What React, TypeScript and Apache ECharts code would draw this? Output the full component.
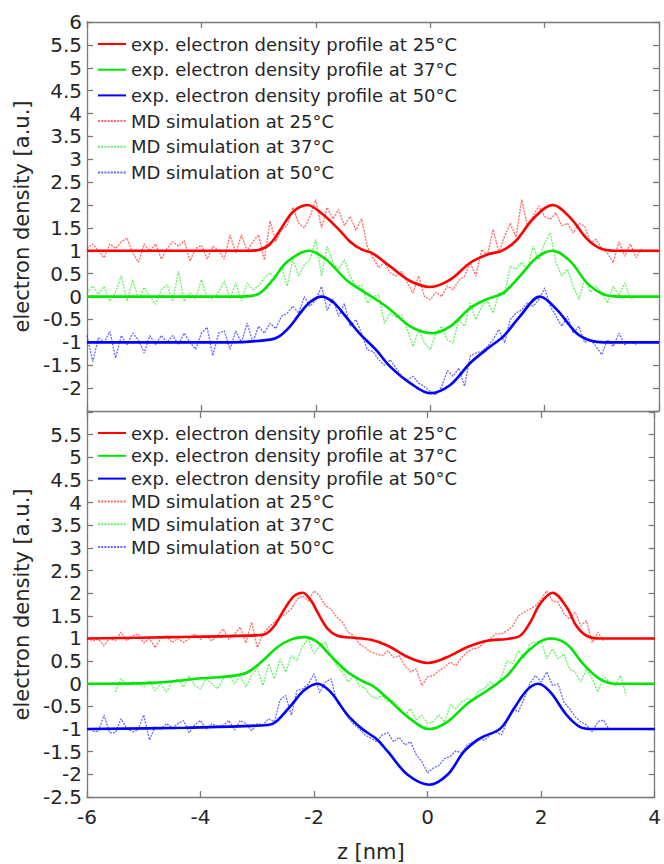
import React, { useEffect, useRef } from "react";
import * as echarts from "echarts";

// ---------- data ----------
const X_TICKS_MIN = -6;
const X_TICKS_MAX = 4;
const Y_MIN = -2.5;
const Y_MAX = 6;

const names = [
  "exp. electron density profile at 25°C",
  "exp. electron density profile at 37°C",
  "exp. electron density profile at 50°C",
  "MD simulation at 25°C",
  "MD simulation at 37°C",
  "MD simulation at 50°C",
];
const colors = ["#ff0000", "#00e600", "#0000ff"];

// experimental profiles [z, density] (top panel)
const topExp25: number[][] = [[-6,1],[-3.2,1.0],[-3.0,1.02],[-2.8,1.15],[-2.6,1.5],[-2.4,1.85],[-2.15,2.0],[-1.9,1.82],[-1.6,1.47],[-1.4,1.2],[-1.2,1.03],[-1.0,0.94],[-0.7,0.66],[-0.35,0.34],[0,0.21],[0.35,0.37],[0.7,0.74],[1.0,0.92],[1.25,1.0],[1.5,1.22],[1.8,1.7],[2.14,2.0],[2.45,1.72],[2.75,1.25],[3.0,1.04],[3.3,1.0],[4,1]];
const topExp37: number[][] = [[-6,0],[-3.3,0],[-3.0,0.06],[-2.75,0.37],[-2.5,0.76],[-2.12,1.0],[-1.82,0.81],[-1.47,0.37],[-1.18,0.12],[-0.95,-0.06],[-0.7,-0.28],[-0.35,-0.65],[0.03,-0.8],[0.35,-0.65],[0.7,-0.25],[1.0,-0.05],[1.28,0.08],[1.57,0.45],[1.86,0.85],[2.14,1.0],[2.45,0.77],[2.74,0.3],[3.03,0.05],[3.32,0],[4,0]];
const topExp50: number[][] = [[-6,-1],[-3.5,-1],[-2.8,-0.94],[-2.64,-0.87],[-2.45,-0.65],[-2.29,-0.39],[-2.1,-0.12],[-1.9,0],[-1.7,-0.12],[-1.5,-0.4],[-1.24,-0.8],[-0.95,-1.16],[-0.7,-1.53],[-0.35,-1.89],[0,-2.11],[0.35,-1.93],[0.7,-1.45],[1.05,-1.09],[1.28,-0.87],[1.57,-0.43],[1.92,0],[2.21,-0.28],[2.56,-0.8],[2.8,-0.96],[3.03,-1],[4,-1]];

// experimental profiles (bottom panel)
const botExp25: number[][] = [[-6,1],[-4.5,1.03],[-3.0,1.07],[-2.85,1.1],[-2.7,1.28],[-2.52,1.65],[-2.35,1.94],[-2.2,2.01],[-2.05,1.83],[-1.94,1.58],[-1.76,1.21],[-1.59,1.06],[-1.36,1.02],[-1.0,0.97],[-0.7,0.84],[-0.35,0.59],[0,0.46],[0.35,0.59],[0.7,0.81],[1.05,0.95],[1.4,0.99],[1.63,1.06],[1.81,1.36],[1.98,1.76],[2.2,2.01],[2.45,1.69],[2.62,1.28],[2.8,1.06],[3.03,1.0],[4,1]];
const botExp37: number[][] = [[-6,0],[-4.85,0.02],[-3.98,0.12],[-3.4,0.18],[-3.16,0.26],[-2.93,0.48],[-2.64,0.81],[-2.4,0.98],[-2.17,1.03],[-1.94,0.92],[-1.71,0.62],[-1.41,0.26],[-1.12,0.04],[-0.95,-0.06],[-0.7,-0.33],[-0.35,-0.73],[0.03,-1.0],[0.35,-0.84],[0.7,-0.44],[1.05,-0.15],[1.4,0.18],[1.75,0.7],[2.16,1.0],[2.45,0.88],[2.74,0.44],[3.03,0.11],[3.32,0.0],[4,0]];
const botExp50: number[][] = [[-6,-1],[-4.27,-0.97],[-2.81,-0.91],[-2.67,-0.84],[-2.4,-0.47],[-2.17,-0.14],[-1.94,0],[-1.71,-0.18],[-1.41,-0.69],[-1.15,-1.0],[-0.9,-1.22],[-0.7,-1.5],[-0.35,-2.01],[0.03,-2.23],[0.35,-2.01],[0.64,-1.5],[0.93,-1.2],[1.28,-0.99],[1.52,-0.55],[1.75,-0.14],[1.95,0],[2.16,-0.18],[2.45,-0.69],[2.68,-0.95],[2.91,-1.0],[4,-1]];

// MD simulation profiles, sampled every MD_STEP nm from the given start
const MD_STEP = 0.1;
const topMd25Start = -6.0;
const topMd25 = [1.05,1.15,1.0,0.85,1.15,1.05,1.2,1.28,0.95,0.75, 1.15,1.0,1.15,0.82,1.05,1.2,1.1,1.22,0.78,1.05, 1.12,0.82,1.1,1.0,0.82,1.35,0.95,1.35,1.0,1.2, 1.35,0.8,1.65,1.2,1.45,1.55,1.95,1.6,1.5,1.75, 2.12,1.5,1.95,1.7,1.9,1.55,1.75,1.45,1.7,1.1, 0.85,0.63,0.75,0.52,0.45,0.55,0.3,0.08,0.45,0.0, -0.07,0.1,0.0,0.23,0.15,0.35,0.45,0.74,0.45,1.03, 0.9,1.47,0.96,1.32,1.6,1.3,2.12,1.54,1.76,1.98, 1.75,1.69,1.83,1.55,1.6,1.39,1.6,1.54,1.18,1.25, 1.05,0.95,0.74,1.2,0.88,1.15,0.85,1.05];
const topMd37Start = -6.0;
const topMd37 = [0.08,0.23,0.05,0.22,-0.1,0.1,0.45,-0.1,0.37,-0.05, 0.2,0.0,-0.17,0.15,0.26,-0.1,0.55,-0.1,0.08,-0.05, 0.37,-0.02,-0.05,0.1,0.34,-0.05,0.3,-0.1,0.3,0.15, 0.23,0.41,0.52,0.41,0.66,0.23,0.81,0.45,0.7,0.81, 1.25,0.45,1.1,0.74,0.6,0.81,0.45,0.23,0.25,-0.14, 0.0,0.04,-0.58,-0.36,-0.45,-0.4,-0.72,-1.09,-0.72,-1.01, -1.16,-0.8,-0.65,-0.95,-1.01,-0.5,-0.65,-0.14,-0.5,-0.21, -0.1,-0.36,0.08,0.05,0.66,0.6,0.75,0.59,1.1,0.8, 1.18,1.39,0.74,0.45,0.6,0.23,-0.07,0.37,0.1,0.23, 0.08,-0.14,0.23,0.02,0.3,-0.05,0.0];
const topMd50Start = -6.0;
const topMd50 = [-0.85,-1.42,-0.9,-1.0,-0.76,-1.34,-0.85,-1.05,-0.8,-0.95, -1.23,-0.85,-1.05,-0.85,-1.0,-0.85,-1.05,-0.8,-1.0,-1.15, -0.8,-0.67,-1.29,-0.8,-0.75,-1.15,-0.75,-1.0,-0.58,-1.0, -0.65,-0.8,-0.58,-0.7,-0.43,-0.36,-0.21,-0.36,0.0,-0.21, -0.07,0.22,-0.3,-0.05,-0.43,-0.15,-0.65,-0.5,-0.8,-1.16, -1.2,-1.38,-1.5,-1.38,-1.56,-1.74,-1.82,-1.74,-1.89,-1.97, -2.07,-2.15,-1.97,-1.62,-1.74,-1.56,-1.96,-1.3,-1.23,-1.2, -1.09,-0.94,-0.72,-1.01,-0.5,-0.36,-0.29,-0.14,-0.21,-0.07, 0.19,-0.21,-0.43,-0.65,-0.43,-0.8,-0.65,-1.0,-0.94,-1.09, -1.27,-0.94,-1.09,-0.8,-1.05,-0.98,-1.05];

const botMd25Start = -6.0;
const botMd25 = [1.0,0.95,0.98,0.84,1.0,0.95,1.14,0.95,1.06,1.1, 0.9,1.0,0.8,1.0,1.06,0.91,1.0,0.91,1.0,1.1, 0.98,1.06,0.95,1.06,1.21,0.98,1.1,1.25,0.9,1.36, 0.8,1.1,1.25,1.36,1.47,1.54,1.65,1.87,1.94,1.83, 2.05,1.94,1.72,1.65,1.47,1.36,1.14,1.06,0.88,0.8, 0.7,0.66,0.62,0.73,0.58,0.62,0.4,0.26,0.33,-0.04, 0.15,0.18,0.29,0.36,0.48,0.4,0.58,0.7,0.77,0.8, 0.91,0.99,1.1,1.1,1.17,1.28,1.5,1.58,1.65,1.72, 1.87,2.05,1.83,1.8,1.55,1.43,1.58,1.28,1.39,0.91, 1.14,0.95];
const botMd37Start = -5.5;
const botMd37 = [-0.18,0.11,-0.03,0.04,0.0,-0.07,0.07,-0.15,0.0,-0.18, 0.04,0.11,-0.07,0.18,-0.04,-0.11,0.11,0.0,-0.11,0.11, 0.18,0.0,0.18,-0.07,0.18,0.33,-0.04,0.44,0.11,0.55, 0.26,0.62,0.51,0.84,0.99,0.66,0.84,0.92,0.62,0.4, 0.26,0.04,0.18,-0.04,-0.11,-0.26,-0.33,-0.26,-0.4,-0.37, -0.51,-0.69,-0.55,-0.8,-0.69,-0.88,-0.84,-0.69,-0.84,-0.47, -0.55,-0.4,-0.33,-0.37,-0.15,-0.11,0.04,-0.04,0.15,0.51, 0.44,0.73,0.55,0.88,0.92,0.95,0.55,0.77,0.55,0.66, 0.33,0.26,0.04,0.33,0.11,-0.18,0.18,0.04,-0.04,0.18, -0.26];
const botMd50Start = -5.9;
const botMd50 = [-1.05,-1.05,-0.69,-1.08,-1.08,-0.77,-0.99,-1.06,-1.02,-0.69, -1.24,-0.95,-1.0,-0.88,-0.98,-0.88,-0.81,-1.08,-0.9,-0.81, -1.0,-0.88,-0.95,-0.92,-0.81,-1.02,-0.81,-0.88,-1.04,-0.88, -0.91,-0.77,-0.84,-0.36,-0.26,-0.69,-0.15,-0.11,0.0,0.22, -0.2,0.04,0.11,-0.4,-0.55,-0.75,-0.9,-1.0,-1.13,-1.2, -1.28,-1.13,-1.08,-1.28,-1.18,-1.35,-1.28,-1.57,-1.72,-1.97, -1.86,-1.8,-1.65,-1.6,-1.48,-1.53,-1.35,-1.28,-1.2,-1.25, -1.13,-1.06,-1.13,-0.84,-0.55,-0.62,-0.33,0.0,0.18,0.04, 0.26,-0.04,0.0,-0.4,-0.55,-0.73,-0.84,-0.91,-1.06,-0.84, -0.8,-1.02];

// ---------- helpers ----------
const FONT = "DejaVu Sans";
const TEXT = "#262626";
const AXIS = "#7a7a7a";

function mdPairs(start: number, vals: number[]): number[][] {
  return vals.map((v, i) => [Math.round((start + i * MD_STEP) * 100) / 100, v]);
}

function expSeries(name: string, color: string, data: number[][], ax: number) {
  return {
    name, type: "line", xAxisIndex: ax, yAxisIndex: ax, data,
    smooth: 0.35, symbol: "none", z: 3,
    lineStyle: { color, width: 2.6 }, itemStyle: { color },
  };
}
function mdSeries(name: string, color: string, data: number[][], ax: number) {
  return {
    name, type: "line", xAxisIndex: ax, yAxisIndex: ax, data,
    symbol: "none", z: 2,
    lineStyle: { color, width: 1.3, type: [2, 1.2], opacity: 0.6 }, itemStyle: { color },
  };
}

function xAx(grid: number, pos: "bottom" | "top", labels: boolean, line: boolean, name?: string) {
  return {
    type: "value", gridIndex: grid, position: pos, min: X_TICKS_MIN, max: X_TICKS_MAX, interval: 2,
    name: name || "", nameLocation: "middle", nameGap: 44,
    nameTextStyle: { fontFamily: FONT, fontSize: 21, color: TEXT },
    axisLine: { show: line, onZero: false, lineStyle: { color: AXIS, width: 1.3 } },
    axisTick: { show: true, inside: true, length: 6, lineStyle: { color: AXIS, width: 1.3 } },
    axisLabel: { show: labels, margin: 10, fontFamily: FONT, fontSize: 20, color: TEXT },
    splitLine: { show: false },
  };
}
function yAx(grid: number, pos: "left" | "right", labels: boolean, hide?: number) {
  return {
    type: "value", gridIndex: grid, position: pos, min: Y_MIN, max: Y_MAX, interval: 0.5,
    name: labels ? "electron density [a.u.]" : "", nameLocation: "middle", nameGap: 50, nameRotate: 90,
    nameTextStyle: { fontFamily: FONT, fontSize: 21, color: TEXT },
    axisLine: { show: true, onZero: false, lineStyle: { color: AXIS, width: 1.3 } },
    axisTick: { show: true, inside: true, length: 6, lineStyle: { color: AXIS, width: 1.3 } },
    axisLabel: {
      show: labels, margin: 5, fontFamily: FONT, fontSize: 20, color: TEXT,
      formatter: (v: number) => (Math.abs(v - (hide as number)) < 1e-6 ? "" : String(v)),
    },
    splitLine: { show: false },
  };
}

function legend(top: number, gap: number) {
  return {
    show: true, orient: "vertical", left: 97, top, padding: 0, itemGap: gap,
    itemWidth: 28, itemHeight: 14, data: names,
    itemStyle: { opacity: 0, color: "rgba(0,0,0,0)", borderWidth: 0 },
    textStyle: { fontFamily: FONT, fontSize: 18, color: TEXT, lineHeight: 20 },
  };
}

export default function App() {
  const ref = useRef<HTMLDivElement>(null);
  useEffect(() => {
    document.body.style.margin = "0";
    if (!ref.current) return;
    const chart = echarts.init(ref.current, undefined, { renderer: "svg" });
    const option = {
      animation: false,
      backgroundColor: "#ffffff",
      grid: [
        { left: 87, right: 5, top: 22, height: 389 },
        { left: 87, right: 5, top: 412, height: 385 },
      ],
      legend: [legend(34, 5.7), legend(423, 2.8)],
      xAxis: [
        xAx(0, "bottom", false, true),
        xAx(0, "top", false, true),
        xAx(1, "bottom", true, true, "z [nm]"),
        xAx(1, "top", false, false),
      ],
      yAxis: [
        yAx(0, "left", true, -2.5),
        yAx(0, "right", false),
        yAx(1, "left", true, 6),
        yAx(1, "right", false),
      ],
      series: [
        expSeries(names[0], colors[0], topExp25, 0),
        expSeries(names[1], colors[1], topExp37, 0),
        expSeries(names[2], colors[2], topExp50, 0),
        mdSeries(names[3], colors[0], mdPairs(topMd25Start, topMd25), 0),
        mdSeries(names[4], colors[1], mdPairs(topMd37Start, topMd37), 0),
        mdSeries(names[5], colors[2], mdPairs(topMd50Start, topMd50), 0),
        expSeries(names[0], colors[0], botExp25, 2),
        expSeries(names[1], colors[1], botExp37, 2),
        expSeries(names[2], colors[2], botExp50, 2),
        mdSeries(names[3], colors[0], mdPairs(botMd25Start, botMd25), 2),
        mdSeries(names[4], colors[1], mdPairs(botMd37Start, botMd37), 2),
        mdSeries(names[5], colors[2], mdPairs(botMd50Start, botMd50), 2),
      ],
    };
    chart.setOption(option as any);
    return () => chart.dispose();
  }, []);
  return <div ref={ref} style={{ width: 664, height: 864 }} />;
}
